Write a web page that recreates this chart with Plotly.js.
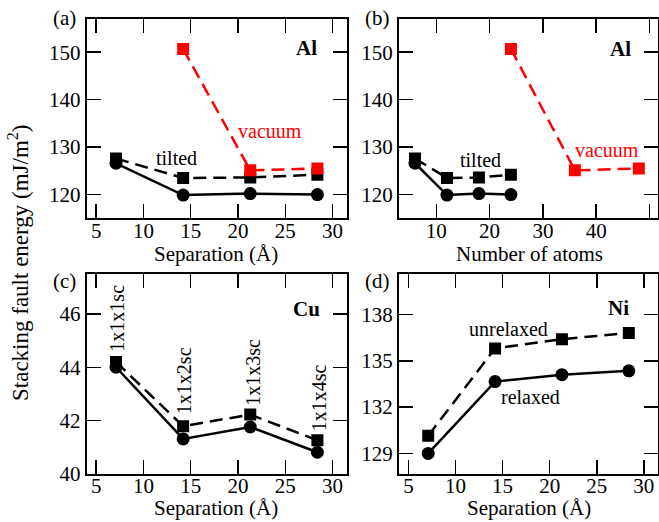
<!DOCTYPE html>
<html>
<head>
<meta charset="utf-8">
<script src="https://cdn.plot.ly/plotly-3.0.1.min.js"></script>
<style>html,body{margin:0;padding:0;background:#fff;}#chart{width:659px;height:522px;}</style>
</head>
<body>
<div id="chart"></div>
<script>
// ---- data ----
const separation = [7.1, 14.2, 21.3, 28.4];
const separationVacuum = [14.2, 21.3, 28.4];
const atomsTilted = [6, 12, 18, 24];
const atomsVacuum = [24, 36, 48];

const alTiltedRelaxed = [126.6, 119.9, 120.2, 120.0];
const alTiltedUnrelaxed = [127.6, 123.5, 123.6, 124.2];
const alVacuum = [150.7, 125.1, 125.5];

const cuRelaxed = [44.0, 41.3, 41.75, 40.8];
const cuUnrelaxed = [44.2, 41.78, 42.22, 41.25];
const cuCells = ["1x1x1sc", "1x1x2sc", "1x1x3sc", "1x1x4sc"];

const niRelaxed = [129.0, 133.65, 134.1, 134.35];
const niUnrelaxed = [130.15, 135.8, 136.4, 136.8];

const sepTicks = [5, 10, 15, 20, 25, 30];
const atomTicks = [10, 20, 30, 40, 50];
const alTicks = [120, 130, 140, 150];
const cuTicks = [40, 42, 44, 46];
const niTicks = [129, 132, 135, 138];

// ---- styles ----
const FONT = "'Liberation Serif', 'Times New Roman', Times, serif";
const solid = (x, y, xa, ya) => ({x, y, xaxis: xa, yaxis: ya, mode: "lines+markers", type: "scatter",
  line: {color: "#000", width: 2.5}, marker: {symbol: "circle", size: 13, color: "#000"}, showlegend: false, hoverinfo: "skip"});
const dashed = (x, y, xa, ya, c) => ({x, y, xaxis: xa, yaxis: ya, mode: "lines+markers", type: "scatter",
  line: {color: c, width: 2.5, dash: "13px,7px"}, marker: {symbol: "square", size: 12, color: c}, showlegend: false, hoverinfo: "skip"});

const data = [
  dashed(separation, alTiltedUnrelaxed, "x", "y", "#000"),
  solid(separation, alTiltedRelaxed, "x", "y"),
  dashed(separationVacuum, alVacuum, "x", "y", "#ff0000"),
  dashed(atomsTilted, alTiltedUnrelaxed, "x2", "y2", "#000"),
  solid(atomsTilted, alTiltedRelaxed, "x2", "y2"),
  dashed(atomsVacuum, alVacuum, "x2", "y2", "#ff0000"),
  dashed(separation, cuUnrelaxed, "x3", "y3", "#000"),
  solid(separation, cuRelaxed, "x3", "y3"),
  dashed(separation, niUnrelaxed, "x4", "y4", "#000"),
  solid(separation, niRelaxed, "x4", "y4")
];

const axBase = (extra) => Object.assign({
  showline: true, linecolor: "#000", linewidth: 2, mirror: "ticks",
  ticks: "inside", ticklen: 14, tickwidth: 1.5, tickcolor: "#000",
  showgrid: false, zeroline: false, tickmode: "array",
  tickfont: {family: FONT, size: 21, color: "#000"}
}, extra);
const xa = (extra) => axBase(Object.assign({ticklabelstandoff: -8}, extra));

const colL = [86.7/659, 346.7/659];
const colR = [399/659, 658/659];
const rowT = [(522-218.3)/522, (522-19)/522];
const rowB = [(522-473.5)/522, (522-274.3)/522];

const layout = {
  width: 659, height: 522,
  margin: {l: 0, r: 0, t: 0, b: 0},
  paper_bgcolor: "#fff", plot_bgcolor: "#fff",
  font: {family: FONT, color: "#000"},
  showlegend: false,
  xaxis: xa({domain: colL, range: [4, 31.5], tickvals: sepTicks, anchor: "y"}),
  yaxis: axBase({domain: rowT, range: [115, 157], tickvals: alTicks, anchor: "x"}),
  xaxis2: xa({domain: colR, range: [3, 51.6], tickvals: atomTicks, anchor: "y2"}),
  yaxis2: axBase({domain: rowT, range: [115, 157], tickvals: alTicks, anchor: "x2"}),
  xaxis3: xa({domain: colL, range: [4, 31.5], tickvals: sepTicks, anchor: "y3"}),
  yaxis3: axBase({domain: rowB, range: [40, 47.5], tickvals: cuTicks, anchor: "x3"}),
  xaxis4: xa({domain: colR, range: [4, 31.5], tickvals: sepTicks, anchor: "y4"}),
  yaxis4: axBase({domain: rowB, range: [127.7, 140.6], tickvals: niTicks, anchor: "x4"}),
  annotations: []
};

const txt = (text, x, y, xref, yref, opts) => Object.assign({text, x, y, xref, yref, showarrow: false,
  xanchor: "center", yanchor: "middle", font: {family: FONT, size: 21, color: "#000"}}, opts || {});
const P = (px, py) => [px/659, (522-py)/522];

layout.annotations.push(
  txt("(a)", ...P(64, 18), "paper", "paper"),
  txt("(b)", ...P(377, 18), "paper", "paper"),
  txt("(c)", ...P(64, 281), "paper", "paper"),
  txt("(d)", ...P(377, 281), "paper", "paper"),
  txt("Separation (Å)", ...P(216, 254), "paper", "paper"),
  txt("Number of atoms", ...P(529, 254), "paper", "paper"),
  txt("Separation (Å)", ...P(216, 508), "paper", "paper"),
  txt("Separation (Å)", ...P(529, 508), "paper", "paper"),
  txt("<b>Al</b>", 27.3, 150.8, "x", "y"),
  txt("<b>Al</b>", 44.6, 150.7, "x2", "y2"),
  txt("<b>Cu</b>", 27.3, 46.2, "x3", "y3"),
  txt("<b>Ni</b>", 27.3, 138.4, "x4", "y4"),
  txt("tilted", 13.55, 127.7, "x", "y", {font: {family: FONT, size: 20, color: "#000"}}),
  txt("vacuum", 23.4, 133.5, "x", "y", {font: {family: FONT, size: 20, color: "#ff0000"}}),
  txt("tilted", 18.2, 127.2, "x2", "y2", {font: {family: FONT, size: 20, color: "#000"}}),
  txt("vacuum", 42.0, 129.4, "x2", "y2", {font: {family: FONT, size: 20, color: "#ff0000"}}),
  txt("unrelaxed", 15.6, 137.06, "x4", "y4", {font: {family: FONT, size: 20, color: "#000"}}),
  txt("relaxed", 18.0, 132.65, "x4", "y4", {font: {family: FONT, size: 20, color: "#000"}}),
  txt("Stacking fault energy (mJ/m<sup>2</sup>)", ...P(18, 263), "paper", "paper", {textangle: -90, font: {family: FONT, size: 23, color: "#000"}})
);
const cuLabelY = [45.85, 43.48, 43.8, 42.84];
const cuLabelX = [7.26, 14.3, 21.5, 28.6];
cuCells.forEach((c, i) => layout.annotations.push(
  txt(c, cuLabelX[i], cuLabelY[i], "x3", "y3", {textangle: -90, font: {family: FONT, size: 20, color: "#000"}})
));

Plotly.newPlot("chart", data, layout, {staticPlot: true, displayModeBar: false});
</script>
</body>
</html>
